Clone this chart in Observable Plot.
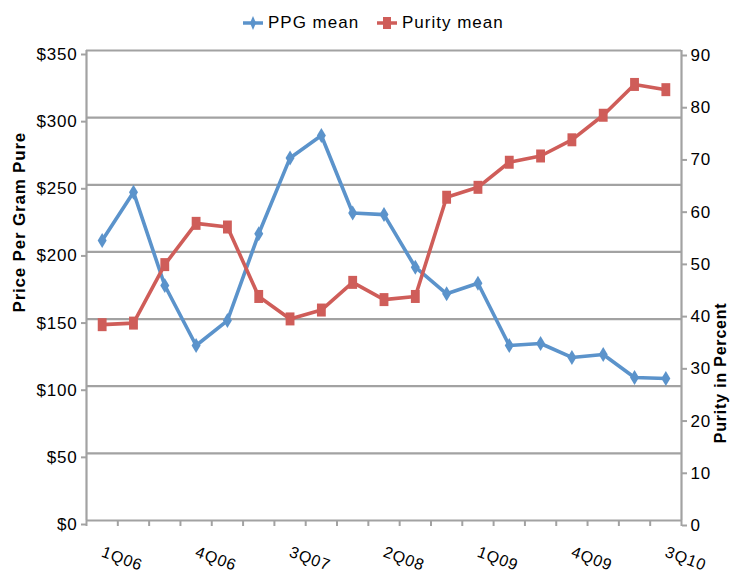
<!DOCTYPE html>
<html><head><meta charset="utf-8">
<script src="https://cdn.jsdelivr.net/npm/d3@7"></script>
<script src="https://cdn.jsdelivr.net/npm/@observablehq/plot@0.6"></script>
<style>
body{margin:0;background:#fff;font-family:"Liberation Sans",Arial,sans-serif;}
#legend{position:relative;height:40px;width:731px;}
.item{position:absolute;top:13px;height:20px;display:flex;align-items:center;font-size:17px;letter-spacing:1px;color:#000;}
.item svg{margin-right:5px;}
#chart svg{display:block;}
#chart svg text{letter-spacing:0.8px;}
</style></head><body>
<div id="legend"></div><div id="chart"></div>
<script>
const quarters = ["1Q06","2Q06","3Q06","4Q06","1Q07","2Q07","3Q07","4Q07","1Q08","2Q08","3Q08","4Q08","1Q09","2Q09","3Q09","4Q09","1Q10","2Q10","3Q10"];
const ppgMean = [208.5,244.5,175,130.3,148.9,213.5,270,286.7,229,227.8,188.6,168.8,176.7,130.3,131.8,121.4,123.6,106.5,105.7];
const purityMean = [37.5,37.8,49.0,56.9,56.2,42.9,38.6,40.3,45.6,42.3,42.9,61.9,63.8,68.6,69.8,72.9,77.6,83.5,82.5];
const priceTicks = [0,50,100,150,200,250,300,350];
const purityTicks = [0,10,20,30,40,50,60,70,80,90];
const labeledQuarters = ["1Q06","4Q06","3Q07","2Q08","1Q09","4Q09","3Q10"];
const seriesNames = ["PPG mean","Purity mean"];

const BLUE = "#5b93cb", RED = "#cf5d59", GRAY = "#a2a2a2";
const PRICE_MAX = 350, PURITY_MAX = 90;
const toPrice = v => v * PRICE_MAX / PURITY_MAX;

const rows = quarters.map((q, i) => ({i, q, ppg: ppgMean[i], purity: purityMean[i]}));

const diamond = {draw(ctx, size) { const r = Math.sqrt(size / Math.PI); const w = r * 0.6;
  ctx.moveTo(0, -r); ctx.lineTo(w, 0); ctx.lineTo(0, r); ctx.lineTo(-w, 0); ctx.closePath(); }};
const rect = {draw(ctx, size) { const r = Math.sqrt(size / Math.PI); const w = r * 0.68, h = r;
  ctx.moveTo(-w, -h); ctx.lineTo(w, -h); ctx.lineTo(w, h); ctx.lineTo(-w, h); ctx.closePath(); }};

// legend
const legend = document.getElementById("legend");
[[seriesNames[0], BLUE, "M10,1 L13,8 L10,15 L7,8Z", 243], [seriesNames[1], RED, "M6,2 H14 V14 H6Z", 377]].forEach(([name, col, path, left]) => {
  const d = document.createElement("div"); d.className = "item"; d.style.left = left + "px";
  d.innerHTML = `<svg width="20" height="16"><line x1="0" x2="20" y1="8" y2="8" stroke="${col}" stroke-width="3.5"/><path d="${path}" fill="${col}"/></svg><span>${name}</span>`;
  legend.appendChild(d);
});

const chart = Plot.plot({
  width: 731, height: 541,
  marginTop: 10, marginBottom: 61, marginLeft: 86, marginRight: 50,
  x: {domain: [0, quarters.length]},
  y: {domain: [0, PRICE_MAX]},
  style: {fontFamily: "Liberation Sans, Arial, sans-serif", fontSize: "17px", background: "#fff", color: "#000"},
  marks: [
    Plot.ruleY(priceTicks, {stroke: GRAY, strokeWidth: 2.2}),
    Plot.ruleX([0, quarters.length], {stroke: GRAY, strokeWidth: 2.2}),
    Plot.axisY(priceTicks, {anchor: "left", tickSize: 5, tickPadding: 4, stroke: GRAY, strokeWidth: 2, tickFormat: d => "$" + d, dy: 4, label: null}),
    Plot.axisY(purityTicks.map(toPrice), {anchor: "right", tickSize: 5, tickPadding: 4, stroke: GRAY, strokeWidth: 2, tickFormat: d => Math.round(d * PURITY_MAX / PRICE_MAX), dy: 5, label: null}),
    Plot.axisX(d3.range(quarters.length + 1), {tickSize: 6, stroke: GRAY, strokeWidth: 2, tickFormat: () => "", label: null}),
    Plot.text(rows.filter(d => labeledQuarters.includes(d.q)), {x: d => d.i + 0.5, y: 0, text: "q", dy: 31, rotate: 20, textAnchor: "start", lineAnchor: "middle", fontSize: 16}),
    Plot.text(["Price Per Gram Pure"], {frameAnchor: "left", dx: -67, dy: 27, rotate: -90, fontWeight: "bold", fontSize: 17}),
    Plot.text(["Purity in Percent"], {frameAnchor: "right", dx: 39, dy: 17, rotate: -90, fontWeight: "bold", fontSize: 16}),
    Plot.line(rows, {x: d => d.i + 0.5, y: "ppg", stroke: BLUE, strokeWidth: 3.6}),
    Plot.dot(rows, {x: d => d.i + 0.5, y: "ppg", symbol: diamond, r: 7.5, fill: BLUE, stroke: "none"}),
    Plot.line(rows, {x: d => d.i + 0.5, y: d => toPrice(d.purity), stroke: RED, strokeWidth: 3.6}),
    Plot.dot(rows, {x: d => d.i + 0.5, y: d => toPrice(d.purity), symbol: rect, r: 6.5, fill: RED, stroke: "none"})
  ]
});
document.getElementById("chart").appendChild(chart);
</script></body></html>
